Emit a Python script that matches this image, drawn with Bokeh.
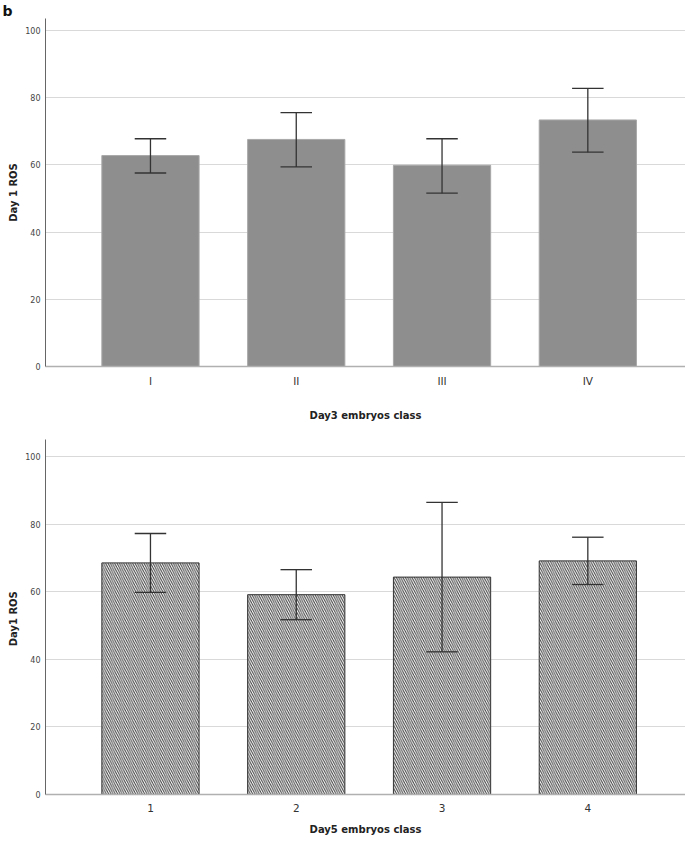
from bokeh.plotting import figure
from bokeh.models import Range1d, FixedTicker, ColumnDataSource
from bokeh.layouts import column
from bokeh.embed import file_html
from bokeh.resources import INLINE

# ---- data ----
top_labels = ["I", "II", "III", "IV"]
top_means = [62.8, 67.6, 59.9, 73.4]
top_lower = [57.6, 59.4, 51.6, 63.8]
top_upper = [67.8, 75.6, 67.8, 82.8]

bot_labels = ["1", "2", "3", "4"]
bot_means = [68.5, 59.1, 64.3, 69.1]
bot_lower = [59.8, 51.7, 42.2, 62.1]
bot_upper = [77.2, 66.5, 86.4, 76.1]

y_ticks = [0, 20, 40, 60, 80, 100]

FONT = "DejaVu Sans"
BAR_W = 0.667
CAP = 0.108


def make_fig(labels, means, lower, upper, xlabel, ylabel, height, border_top, border_bottom,
             hatch, y_end, tick_standoff, label_standoff):
    xs = list(range(1, len(labels) + 1))
    p = figure(width=685, height=height, output_backend="svg", toolbar_location=None,
               x_range=Range1d(0.28, 4.67), y_range=Range1d(0, y_end),
               min_border_left=45, min_border_right=0, min_border_top=border_top,
               min_border_bottom=border_bottom)
    p.outline_line_color = None
    p.background_fill_color = "white"
    p.border_fill_color = "white"
    src = ColumnDataSource(dict(x=xs, top=means, lo=lower, hi=upper,
                                c0=[x - CAP for x in xs], c1=[x + CAP for x in xs]))
    if hatch:
        p.vbar(x="x", top="top", width=BAR_W, bottom=0, source=src,
               fill_color="white", line_color="#333333", line_width=1,
               hatch_pattern="\\", hatch_color="#3c3c3c", hatch_scale=4.5, hatch_weight=1)
    else:
        p.vbar(x="x", top="top", width=BAR_W, bottom=0, source=src,
               fill_color="#8e8e8e", line_color="#a8a8a8", line_width=1)
    p.segment(x0="x", x1="x", y0="lo", y1="hi", source=src, line_color="#333333", line_width=1.3)
    p.segment(x0="c0", x1="c1", y0="lo", y1="lo", source=src, line_color="#333333", line_width=1.3)
    p.segment(x0="c0", x1="c1", y0="hi", y1="hi", source=src, line_color="#333333", line_width=1.3)

    p.xgrid.visible = False
    p.ygrid.ticker = FixedTicker(ticks=y_ticks)
    p.ygrid.grid_line_color = "#d9d9d9"
    p.ygrid.grid_line_width = 1.2

    xa = p.xaxis[0]
    xa.ticker = FixedTicker(ticks=xs)
    xa.major_label_overrides = {x: l for x, l in zip(xs, labels)}
    xa.major_tick_line_color = None
    xa.minor_tick_line_color = None
    xa.major_tick_out = 0
    xa.major_tick_in = 0
    xa.minor_tick_out = 0
    xa.axis_line_color = "#b0b0b0"
    xa.axis_line_width = 1.5
    xa.major_label_text_font = FONT
    xa.major_label_text_font_size = "10.5px"
    xa.major_label_text_color = "#333333"
    xa.major_label_standoff = tick_standoff
    xa.axis_label = xlabel
    xa.axis_label_text_font = FONT
    xa.axis_label_text_font_size = "10px"
    xa.axis_label_text_font_style = "bold"
    xa.axis_label_text_color = "#222222"
    xa.axis_label_standoff = label_standoff

    ya = p.yaxis[0]
    ya.ticker = FixedTicker(ticks=y_ticks)
    ya.major_tick_line_color = None
    ya.minor_tick_line_color = None
    ya.major_tick_out = 0
    ya.major_tick_in = 0
    ya.minor_tick_out = 0
    ya.axis_line_color = "#666666"
    ya.axis_line_width = 1
    ya.major_label_text_font = FONT
    ya.major_label_text_font_size = "8px"
    ya.major_label_text_color = "#444444"
    ya.major_label_standoff = 5
    ya.axis_label = ylabel
    ya.axis_label_text_font = FONT
    ya.axis_label_text_font_size = "10px"
    ya.axis_label_text_font_style = "bold"
    ya.axis_label_text_color = "#222222"
    ya.axis_label_standoff = 3
    return p


p1 = make_fig(top_labels, top_means, top_lower, top_upper,
              "Day3 embryos class", "Day 1 ROS", 432, 0, 66, False, 103.6, 8, 20)
p1.title.text = "b"
p1.title.align = "left"
p1.title.offset = -43
p1.title.standoff = 0
p1.title.text_font = FONT
p1.title.text_font_size = "14px"
p1.title.text_font_style = "bold"
p1.title.text_color = "#111111"

p2 = make_fig(bot_labels, bot_means, bot_lower, bot_upper,
              "Day5 embryos class", "Day1  ROS", 409, 7, 47, True, 105, 9, 9)

layout = column(p1, p2, spacing=0)
open("out.html", "w").write(file_html(layout, INLINE))
